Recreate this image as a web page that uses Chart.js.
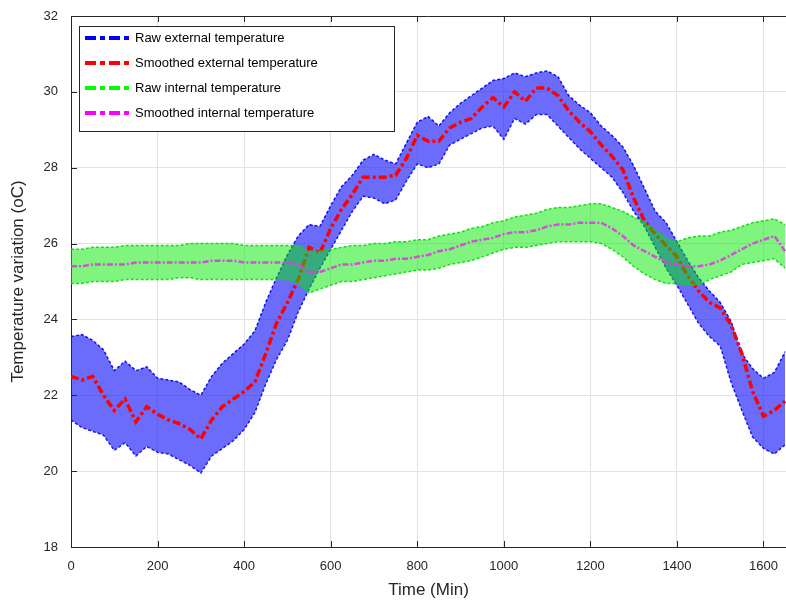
<!DOCTYPE html>
<html>
<head>
<meta charset="utf-8">
<script src="https://cdn.jsdelivr.net/npm/chart.js@4.4.0/dist/chart.umd.min.js"></script>
<style>
  html, body { margin: 0; padding: 0; background: #fff; }
</style>
</head>
<body>
<canvas id="chart" width="786" height="604"></canvas>
<script>
// time axis (minutes), one reading every 25 min
const minutes = [0,25,50,75,100,125,150,175,200,225,250,275,300,325,350,375,400,425,450,475,
  500,525,550,575,600,625,650,675,700,725,750,775,800,825,850,875,900,925,950,975,
  1000,1025,1050,1075,1100,1125,1150,1175,1200,1225,1250,1275,1300,1325,1350,1375,1400,1425,1450,1475,
  1500,1525,1550,1575,1600,1625,1650];

// raw external temperature: upper and lower edge of the noisy band
const rawExtHigh = [23.55,23.6,23.45,23.2,22.65,22.9,22.65,22.75,22.45,22.4,
  22.35,22.15,22.0,22.5,22.85,23.1,23.35,23.7,24.45,25.1,
  25.7,26.2,26.5,26.45,27.0,27.5,27.8,28.2,28.35,28.2,
  28.1,28.65,29.2,29.35,29.1,29.45,29.7,29.9,30.1,30.3,
  30.35,30.5,30.4,30.5,30.55,30.4,29.9,29.65,29.45,29.1,
  28.85,28.55,28.05,27.45,26.85,26.55,26.05,25.55,25.1,24.75,
  24.45,23.95,23.1,22.7,22.45,22.6,23.15];
const rawExtLow = [21.35,21.15,21.05,20.95,20.55,20.75,20.4,20.65,20.5,20.45,
  20.3,20.15,19.95,20.4,20.6,20.8,21.1,21.55,22.3,22.95,
  23.45,24.2,24.8,25.35,25.85,26.35,26.85,27.25,27.2,27.05,
  27.15,27.65,28.1,28.0,28.1,28.6,28.75,28.9,29.05,29.1,
  28.75,29.3,29.15,29.4,29.4,29.1,28.8,28.5,28.25,28.0,
  27.75,27.35,26.85,26.45,25.9,25.35,24.9,24.4,23.9,23.55,
  23.3,22.35,21.6,20.9,20.6,20.45,20.7];
const smoothExt = [22.5,22.4,22.5,22.0,21.6,21.9,21.3,21.7,21.5,21.35,
  21.25,21.1,20.85,21.35,21.7,21.9,22.1,22.35,23.1,23.9,
  24.45,25.05,25.9,25.75,26.4,26.9,27.3,27.75,27.75,27.75,
  27.8,28.25,28.85,28.7,28.7,29.05,29.2,29.3,29.6,29.85,
  29.6,30.0,29.75,30.1,30.1,29.9,29.5,29.2,28.95,28.6,
  28.3,27.95,27.2,26.6,26.25,25.95,25.65,25.15,24.75,24.45,
  24.3,23.85,23.1,22.1,21.45,21.6,21.85];

// raw internal temperature band and its smoothed curve
const rawIntHigh = [25.85,25.85,25.9,25.9,25.9,25.95,25.95,25.95,25.95,25.95,
  25.95,26.0,26.0,26.0,26.0,26.0,25.95,25.95,25.95,25.95,
  25.95,25.95,25.8,25.8,25.85,25.9,25.95,25.95,26.0,26.0,
  26.05,26.05,26.1,26.1,26.2,26.25,26.3,26.4,26.45,26.55,
  26.6,26.7,26.75,26.8,26.9,26.95,26.95,27.0,27.05,27.05,
  26.95,26.85,26.7,26.55,26.35,26.15,26.05,26.15,26.2,26.2,
  26.3,26.35,26.45,26.55,26.6,26.65,26.5];
const rawIntLow = [24.95,24.95,25.0,25.0,25.0,25.05,25.05,25.05,25.05,25.05,
  25.1,25.1,25.05,25.05,25.05,25.05,25.05,25.05,25.05,25.05,
  25.05,24.95,24.7,24.8,24.9,25.0,25.0,25.05,25.1,25.15,
  25.2,25.25,25.3,25.3,25.35,25.45,25.5,25.55,25.65,25.75,
  25.85,25.9,25.9,25.95,26.0,26.05,26.05,26.05,26.05,26.0,
  25.85,25.65,25.4,25.2,25.05,24.95,24.95,24.9,24.9,25.05,
  25.15,25.25,25.45,25.5,25.55,25.6,25.35];
const smoothInt = [25.4,25.4,25.45,25.45,25.45,25.45,25.5,25.5,25.5,25.5,
  25.5,25.5,25.5,25.55,25.55,25.55,25.5,25.5,25.5,25.5,
  25.5,25.45,25.25,25.25,25.35,25.45,25.45,25.5,25.55,25.55,
  25.6,25.6,25.65,25.7,25.8,25.85,25.95,26.05,26.1,26.15,
  26.25,26.3,26.3,26.35,26.45,26.5,26.5,26.55,26.55,26.55,
  26.4,26.2,25.95,25.8,25.65,25.5,25.45,25.4,25.4,25.45,
  25.55,25.7,25.85,26.0,26.1,26.2,25.8];

const xTicks = [0,200,400,600,800,1000,1200,1400,1600];
const yTicks = [18,20,22,24,26,28,30,32];

const pts = (vals) => vals.map((v, i) => ({ x: minutes[i], y: v }));

Chart.defaults.font.family = "'Liberation Sans', Arial, sans-serif";
Chart.defaults.color = '#262626';

// legend entries: dataset index + colour of the sample line
const legendRows = [
  { ds: 0, color: '#0000ff' },
  { ds: 2, color: '#ff0000' },
  { ds: 3, color: '#00ff00' },
  { ds: 5, color: '#ff00ff' }
];

const boxPlugin = {
  id: 'boxPlugin',
  afterDraw(chart) {
    const { ctx, chartArea: a, scales: { x, y } } = chart;
    ctx.save();
    // top border + inward ticks like matlab
    ctx.strokeStyle = '#262626';
    ctx.lineWidth = 1;
    ctx.beginPath();
    ctx.moveTo(a.left, a.top + 0.5);
    ctx.lineTo(a.right, a.top + 0.5);
    xTicks.forEach(v => {
      const px = Math.round(x.getPixelForValue(v)) + 0.5;
      ctx.moveTo(px, a.bottom); ctx.lineTo(px, a.bottom - 6);
      ctx.moveTo(px, a.top); ctx.lineTo(px, a.top + 6);
    });
    yTicks.forEach(v => {
      const py = Math.round(y.getPixelForValue(v)) + 0.5;
      ctx.moveTo(a.left, py); ctx.lineTo(a.left + 6, py);
    });
    ctx.stroke();

    // legend box
    const bx = 79.5, by = 26.5, bw = 315, bh = 105;
    ctx.fillStyle = '#fff';
    ctx.fillRect(bx, by, bw, bh);
    ctx.strokeStyle = '#262626';
    ctx.strokeRect(bx, by, bw, bh);
    ctx.font = "13px 'Liberation Sans', Arial, sans-serif";
    ctx.textBaseline = 'middle';
    legendRows.forEach((row, i) => {
      const ly = 38 + i * 25;
      ctx.strokeStyle = row.color;
      ctx.lineWidth = 4;
      ctx.setLineDash([11, 4, 5, 4]);
      ctx.beginPath();
      ctx.moveTo(85, ly);
      ctx.lineTo(130, ly);
      ctx.stroke();
      ctx.setLineDash([]);
      ctx.fillStyle = '#000';
      ctx.fillText(chart.data.datasets[row.ds].label, 135, ly);
    });
    ctx.restore();
  }
};

new Chart(document.getElementById('chart'), {
  type: 'line',
  data: {
    datasets: [
      {
        label: 'Raw external temperature',
        data: pts(rawExtHigh),
        borderColor: 'rgba(0,0,230,0.9)',
        borderWidth: 1.5,
        borderDash: [3, 2],
        backgroundColor: 'rgba(25,25,250,0.64)',
        fill: '+1',
        order: 4
      },
      {
        label: 'raw ext low',
        data: pts(rawExtLow),
        borderColor: 'rgba(0,0,230,0.9)',
        borderWidth: 1.5,
        borderDash: [3, 2],
        fill: false,
        order: 4
      },
      {
        label: 'Smoothed external temperature',
        data: pts(smoothExt),
        borderColor: '#ff0000',
        borderWidth: 3.5,
        borderDash: [8, 3, 3, 3],
        fill: false,
        order: 3
      },
      {
        label: 'Raw internal temperature',
        data: pts(rawIntHigh),
        borderColor: 'rgba(0,220,0,0.9)',
        borderWidth: 1.5,
        borderDash: [3, 2],
        backgroundColor: 'rgba(0,235,0,0.5)',
        fill: '+1',
        order: 2
      },
      {
        label: 'raw int low',
        data: pts(rawIntLow),
        borderColor: 'rgba(0,220,0,0.9)',
        borderWidth: 1.5,
        borderDash: [3, 2],
        fill: false,
        order: 2
      },
      {
        label: 'Smoothed internal temperature',
        data: pts(smoothInt),
        borderColor: 'rgba(225,60,225,0.9)',
        borderWidth: 2.5,
        borderDash: [6, 2, 2, 2],
        fill: false,
        order: 1
      }
    ]
  },
  options: {
    responsive: false,
    animation: false,
    events: [],
    elements: { point: { radius: 0 }, line: { tension: 0 } },
    layout: { padding: { top: 16, right: 0, left: 0, bottom: 0 } },
    plugins: { legend: { display: false }, tooltip: { enabled: false } },
    scales: {
      x: {
        type: 'linear',
        min: 0,
        max: 1652,
        afterBuildTicks: s => { s.ticks = xTicks.map(v => ({ value: v })); },
        afterFit: s => { s.height = 57; s.paddingLeft = 0; s.paddingRight = 0; },
        grid: { color: '#e3e3e3', drawTicks: false },
        border: { color: '#262626' },
        ticks: { font: { size: 13 }, padding: 12, maxRotation: 0, callback: v => String(v) },
        title: { display: true, text: 'Time (Min)', font: { size: 17 }, padding: { top: 0, bottom: 3 } }
      },
      y: {
        min: 18,
        max: 32,
        afterBuildTicks: s => { s.ticks = yTicks.map(v => ({ value: v })); },
        afterFit: s => { s.width = 71; s.paddingTop = 0; s.paddingBottom = 0; },
        grid: { color: '#e3e3e3', drawTicks: false },
        border: { color: '#262626' },
        ticks: { font: { size: 13 }, padding: 13, callback: v => String(v) },
        title: { display: true, text: 'Temperature variation (oC)', font: { size: 17 }, padding: { top: 8, bottom: 0 } }
      }
    }
  },
  plugins: [boxPlugin]
});
</script>
</body>
</html>
